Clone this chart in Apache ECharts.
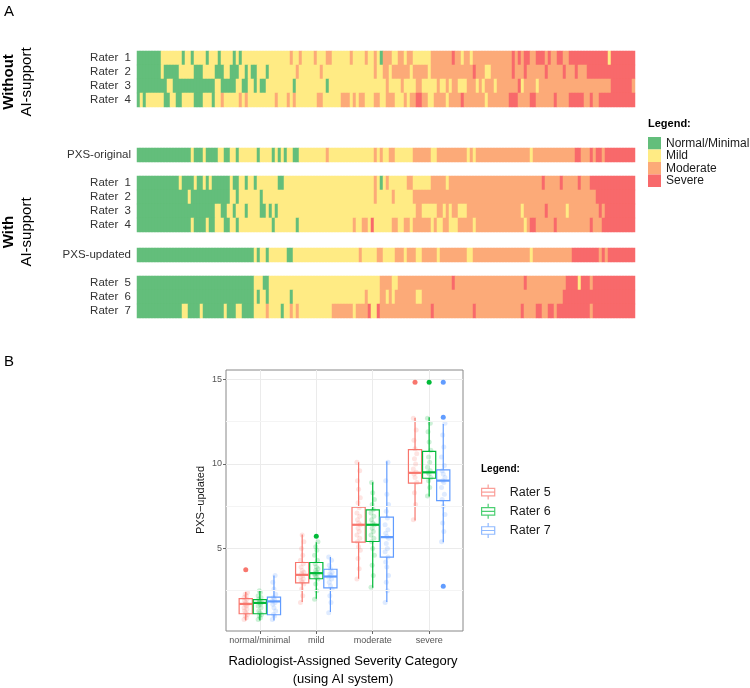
<!DOCTYPE html>
<html><head><meta charset="utf-8">
<script src="https://cdn.jsdelivr.net/npm/echarts@6/dist/echarts.min.js"></script>
<style>html,body{margin:0;padding:0;background:#fff}#c{width:750px;height:688px}</style>
</head><body><div id="c"></div>
<script>
// ---------------- DATA ----------------
const N_CASES = 166;
const severityLabels = ['Normal/Minimal', 'Mild', 'Moderate', 'Severe'];
const severityColors = ['#63BE7B', '#FFEB84', '#FCAA78', '#F8696B'];

// Ratings per case, written as change points "startCase:category" (0 normal, 1 mild, 2 moderate, 3 severe)
const withoutR1 = "0:0 8:1 15:0 16:1 18:0 19:1 23:0 24:1 27:0 28:1 32:0 33:1 34:0 35:1 51:2 52:1 54:2 55:1 59:2 60:1 63:2 65:1 71:2 72:1 76:2 77:1 79:2 80:1 81:0 82:2 85:1 87:2 89:1 90:2 92:1 98:2 105:3 106:2 108:1 109:2 111:1 112:2 125:3 126:2 127:3 128:2 129:3 131:2 133:3 136:2 137:3 138:2 140:3 142:2 144:3 157:1 158:3";
const withoutR2 = "0:0 8:1 9:0 14:1 19:0 22:1 26:0 29:1 31:0 34:1 36:0 37:1 38:0 40:1 43:0 44:1 53:2 54:1 61:2 62:1 79:2 80:1 82:2 84:1 85:2 91:1 92:2 97:1 98:2 112:3 113:2 116:1 118:2 125:3 126:2 129:3 130:2 136:3 137:2 142:3 143:2 146:3 147:2 150:3";
const withoutR3 = "0:0 10:1 12:0 26:1 28:0 33:1 35:0 37:1 39:0 40:1 41:0 43:1 52:0 53:1 63:0 64:1 83:2 84:1 88:2 89:1 93:2 95:1 100:2 101:1 103:2 104:1 105:2 107:1 110:2 113:1 114:2 115:1 116:2 119:1 120:2 127:3 128:1 129:2 133:1 134:2 158:3 165:2";
const withoutR4 = "0:0 1:1 2:0 3:1 9:0 11:1 13:0 15:1 19:0 22:1 25:0 26:1 28:2 29:1 34:2 35:1 36:2 37:1 46:2 47:1 50:2 51:1 52:2 53:1 60:2 62:1 68:2 71:1 72:2 73:1 74:2 76:1 79:2 81:1 83:2 86:1 89:2 90:1 91:2 93:3 95:2 97:1 99:2 103:1 104:2 108:3 109:2 116:1 117:2 124:3 127:2 131:3 133:2 139:3 140:2 144:3 149:2 151:3 152:2 154:3";
const pxsOriginal = "0:0 18:1 19:0 22:1 23:0 27:1 29:0 31:1 33:0 34:1 40:0 41:1 45:0 46:1 47:0 48:1 49:0 50:1 52:0 54:1 63:2 64:1 79:2 80:1 81:2 82:1 84:2 86:1 92:2 98:1 100:2 110:1 111:2 112:1 113:2 131:1 132:2 146:3 148:2 151:3 152:2 153:3 155:2 156:3";
const withR1 = "0:0 14:1 15:0 19:1 20:0 22:1 23:0 24:1 25:0 31:1 32:0 34:1 36:0 37:1 39:0 40:1 47:0 49:1 79:2 80:1 81:0 82:1 83:2 84:1 90:2 92:1 98:2 103:1 104:2 135:3 136:2 141:3 142:2 147:3 148:2 151:3";
const withR2 = "0:0 17:1 18:0 31:1 33:0 34:1 41:0 42:1 79:2 80:1 85:2 86:1 92:2 153:3";
const withR3 = "0:0 26:1 28:0 30:1 32:0 33:1 36:0 37:1 41:0 43:1 44:0 45:1 46:0 47:1 93:2 95:1 100:2 102:1 103:2 104:1 105:2 107:1 110:2 128:1 129:2 136:3 137:2 143:1 144:2 154:3 155:2 156:3";
const withR4 = "0:0 18:1 19:0 23:1 24:0 26:1 29:0 31:1 33:0 34:1 45:0 46:1 53:0 54:1 72:2 73:1 75:2 77:1 78:3 79:1 85:2 87:1 89:2 91:1 92:2 98:1 99:2 100:1 102:2 104:1 107:2 112:1 113:2 129:1 130:2 131:3 133:2 139:3 140:2 151:3 152:2 155:3";
const pxsUpdated = "0:0 39:1 40:0 41:1 43:0 44:1 50:0 52:1 74:2 75:1 80:2 82:1 86:2 89:1 90:2 93:1 95:2 100:1 101:2 110:1 112:2 131:1 132:2 145:3 154:2 155:3 156:2 157:3";
const rater5Row = "0:0 39:1 42:0 44:1 81:2 85:1 87:2 105:3 106:2 129:3 130:2 143:3 147:1 148:3 151:2 152:3";
const rater6Row = "0:0 39:1 40:0 41:1 43:0 44:1 51:0 52:1 76:2 77:1 81:2 83:1 84:2 85:1 86:2 93:1 95:2 142:3";
const rater7Row = "0:0 15:1 17:0 21:1 22:0 29:1 30:0 33:1 35:0 39:1 43:2 44:1 48:0 49:1 51:2 52:1 53:2 54:1 65:2 72:1 73:2 77:3 78:1 80:3 81:2 98:3 99:2 112:3 113:2 128:3 129:2 133:3 135:2 137:3 139:2 140:3 151:2 152:3";

const blockRows = [
  ['Rater  1', 'Rater  2', 'Rater  3', 'Rater  4'],
  ['PXS-original'],
  ['Rater  1', 'Rater  2', 'Rater  3', 'Rater  4'],
  ['PXS-updated'],
  ['Rater  5', 'Rater  6', 'Rater  7']
];
const blockData = [
  [withoutR1, withoutR2, withoutR3, withoutR4],
  [pxsOriginal],
  [withR1, withR2, withR3, withR4],
  [pxsUpdated],
  [rater5Row, rater6Row, rater7Row]
];

// Panel B
const boxCategories = ['normal/minimal', 'mild', 'moderate', 'severe'];
const boxRaters = ['Rater 5', 'Rater 6', 'Rater 7'];
// [lowWhisker, q1, median, q3, highWhisker] per category
const rater5Box = [[0.74, 1.14, 1.72, 2.03, 2.42], [1.83, 2.97, 3.44, 4.17, 5.82], [3.21, 5.37, 6.40, 7.44, 10.1], [6.65, 8.86, 9.47, 10.84, 12.72]];
const rater6Box = [[0.74, 1.14, 1.78, 1.97, 2.52], [2.03, 3.21, 3.54, 4.17, 5.37], [2.67, 5.41, 6.40, 7.28, 8.91], [8.07, 9.15, 9.50, 10.74, 12.75]];
const rater7Box = [[0.74, 1.08, 1.87, 2.12, 3.40], [1.24, 2.67, 3.34, 3.77, 4.49], [1.83, 4.49, 5.67, 6.85, 10.15], [5.37, 7.83, 9.01, 9.65, 12.36]];
// outliers [categoryIndex, value]
const rater5Outliers = [[0, 3.74], [3, 14.82]];
const rater6Outliers = [[1, 5.72], [3, 14.82]];
const rater7Outliers = [[3, 2.76], [3, 12.75], [3, 14.82]];
// individual (jittered) cases per category
const rater5Points = [
  [0.8, 0.9, 1.0, 1.1, 1.2, 1.3, 1.4, 1.5, 1.6, 1.7, 1.7, 1.8, 1.9, 2.0, 2.1, 2.2, 2.3, 2.4],
  [1.8, 2.2, 2.6, 2.9, 3.0, 3.1, 3.2, 3.3, 3.4, 3.5, 3.6, 3.7, 3.9, 4.1, 4.3, 4.6, 5.0, 5.4, 5.8],
  [3.2, 3.8, 4.4, 4.9, 5.1, 5.4, 5.6, 5.8, 6.0, 6.2, 6.4, 6.5, 6.7, 6.9, 7.1, 7.4, 7.7, 8.0, 8.5, 9.0, 9.6, 10.1],
  [6.7, 7.6, 8.3, 8.9, 9.2, 9.4, 9.5, 9.7, 10.0, 10.3, 10.6, 10.9, 11.4, 12.0, 12.7]
];
const rater6Points = [
  [0.8, 0.9, 1.0, 1.1, 1.2, 1.3, 1.5, 1.6, 1.7, 1.8, 1.8, 1.9, 2.0, 2.1, 2.2, 2.4, 2.5],
  [2.0, 2.5, 2.9, 3.2, 3.3, 3.4, 3.5, 3.5, 3.6, 3.7, 3.8, 3.9, 4.1, 4.3, 4.6, 4.9, 5.1, 5.4],
  [2.7, 3.4, 4.0, 4.6, 5.0, 5.4, 5.6, 5.8, 6.0, 6.2, 6.4, 6.5, 6.7, 6.9, 7.1, 7.3, 7.6, 7.9, 8.3, 8.9],
  [8.1, 8.6, 9.0, 9.2, 9.4, 9.5, 9.6, 9.8, 10.1, 10.4, 10.8, 11.3, 11.9, 12.4, 12.7]
];
const rater7Points = [
  [0.8, 1.0, 1.1, 1.3, 1.5, 1.7, 1.8, 1.9, 2.0, 2.1, 2.3, 2.6, 3.0, 3.4],
  [1.2, 1.8, 2.2, 2.6, 2.8, 3.0, 3.2, 3.3, 3.4, 3.5, 3.6, 3.8, 4.0, 4.3, 4.5],
  [1.8, 2.5, 3.0, 3.4, 3.9, 4.2, 4.5, 4.8, 5.0, 5.3, 5.6, 5.7, 5.9, 6.1, 6.4, 6.8, 7.2, 7.6, 8.2, 9.0, 10.1],
  [5.4, 6.0, 6.5, 7.0, 7.5, 7.9, 8.2, 8.6, 8.9, 9.0, 9.2, 9.4, 9.6, 9.9, 10.4, 11.0, 11.7, 12.4]
];
const yTickLabels = [5, 10, 15];

// ---------------- BUILD ----------------
const FONT = '"Liberation Sans", Arial, Helvetica, sans-serif';
function decode(s) {
  const out = new Array(N_CASES).fill(0);
  const pts = s.trim().split(/\s+/).map(t => t.split(':').map(Number));
  for (let k = 0; k < pts.length; k++) {
    const st = pts[k][0], c = pts[k][1];
    const en = k + 1 < pts.length ? pts[k + 1][0] : N_CASES;
    for (let i = st; i < en && i < N_CASES; i++) out[i] = c;
  }
  return out;
}
const caseIds = Array.from({length: N_CASES}, (_, i) => String(i + 1));

// layout of heatmap blocks (px)
const blockLayout = [
  {top: 51, height: 56},
  {top: 148, height: 14},
  {top: 176, height: 56},
  {top: 248, height: 14},
  {top: 276, height: 42}
];

const grids = [], xAxes = [], yAxes = [], series = [];
blockRows.forEach((rows, b) => {
  grids.push({left: 137, top: blockLayout[b].top, width: 498, height: blockLayout[b].height, containLabel: false});
  xAxes.push({type: 'category', gridIndex: b, data: caseIds, show: false});
  yAxes.push({
    type: 'category', gridIndex: b, data: rows, inverse: true,
    axisLine: {show: false}, axisTick: {show: false}, splitLine: {show: false},
    axisLabel: {interval: 0, fontSize: 11.5, color: '#333', margin: 6, fontFamily: FONT}
  });
  const data = [];
  blockData[b].forEach((s, r) => {
    decode(s).forEach((c, i) => data.push([i, r, c]));
  });
  series.push({type: 'heatmap', xAxisIndex: b, yAxisIndex: b, data: data, itemStyle: {borderWidth: 0}, silent: true});
});
const heatCount = series.length;

// Panel B grid
const GB = blockRows.length;
grids.push({left: 226, top: 370, width: 237, height: 261, show: true, borderColor: '#888', borderWidth: 1, containLabel: false});
xAxes.push({
  type: 'value', gridIndex: GB, min: 0.4, max: 4.6, splitNumber: 4,
  axisLine: {show: false},
  axisTick: {show: true, length: 3, lineStyle: {color: '#666'}, customValues: [1, 2, 3, 4]},
  axisLabel: {fontSize: 9, color: '#555', margin: 5, fontFamily: FONT, customValues: [1, 2, 3, 4],
    formatter: v => (Math.abs(v - Math.round(v)) < 1e-6 && v >= 1 && v <= 4) ? boxCategories[Math.round(v) - 1] : ''},
  splitLine: {show: true, lineStyle: {color: '#ebebeb', width: 1}}
});
yAxes.push({
  type: 'value', gridIndex: GB, min: 0.12, max: 15.55, splitNumber: 3,
  axisLine: {show: false},
  axisTick: {show: true, length: 3, lineStyle: {color: '#666'}, customValues: yTickLabels},
  axisLabel: {fontSize: 9, color: '#555', margin: 4, fontFamily: FONT, customValues: yTickLabels,
    formatter: v => yTickLabels.indexOf(Math.round(v * 1000) / 1000) >= 0 ? String(v) : ''},
  splitLine: {show: true, lineStyle: {color: '#ebebeb', width: 1}}
});

const raterColors = ['#F8766D', '#00BA38', '#619CFF'];
const dodge = [-0.25, 0, 0.25];
const allBoxes = [rater5Box, rater6Box, rater7Box];
const allOutliers = [rater5Outliers, rater6Outliers, rater7Outliers];
const allPoints = [rater5Points, rater6Points, rater7Points];
const jitterPattern = [-0.03, 0.01, -0.01, 0.03, 0.0, -0.02, 0.02];

function boxRender(offset, color) {
  return function (params, api) {
    const x = api.value(0) + offset, hw = 0.117;
    const lo = api.value(1), q1 = api.value(2), md = api.value(3), q3 = api.value(4), hi = api.value(5);
    const tl = api.coord([x - hw, q3]), br = api.coord([x + hw, q1]);
    const pLo = api.coord([x, lo]), pHi = api.coord([x, hi]), pQ1 = api.coord([x, q1]), pQ3 = api.coord([x, q3]);
    const ml = api.coord([x - hw, md]), mr = api.coord([x + hw, md]);
    return {type: 'group', children: [
      {type: 'line', shape: {x1: pHi[0], y1: pHi[1], x2: pQ3[0], y2: pQ3[1]}, style: {stroke: color, lineWidth: 1.2}},
      {type: 'line', shape: {x1: pQ1[0], y1: pQ1[1], x2: pLo[0], y2: pLo[1]}, style: {stroke: color, lineWidth: 1.2}},
      {type: 'rect', shape: {x: tl[0], y: tl[1], width: br[0] - tl[0], height: br[1] - tl[1]}, style: {fill: 'none', stroke: color, lineWidth: 1.2}},
      {type: 'line', shape: {x1: ml[0], y1: ml[1], x2: mr[0], y2: mr[1]}, style: {stroke: color, lineWidth: 2.2}}
    ]};
  };
}

// minor grid lines
series.push({
  type: 'line', xAxisIndex: GB, yAxisIndex: GB, data: [], silent: true,
  markLine: {silent: true, symbol: 'none', label: {show: false}, lineStyle: {color: '#f4f4f4', width: 1, type: 'solid'},
    data: [{yAxis: 2.5}, {yAxis: 7.5}, {yAxis: 12.5}]}
});

boxRaters.forEach((name, r) => {
  const pts = [];
  allPoints[r].forEach((vals, c) => vals.forEach((v, i) => pts.push([c + 1 + dodge[r] + jitterPattern[i % jitterPattern.length], v])));
  series.push({
    name: name, type: 'scatter', xAxisIndex: GB, yAxisIndex: GB, data: pts, symbolSize: 5, silent: true,
    itemStyle: {color: raterColors[r], opacity: 0.2}
  });
  series.push({
    name: name, type: 'custom', xAxisIndex: GB, yAxisIndex: GB, silent: true,
    renderItem: boxRender(dodge[r], raterColors[r]),
    itemStyle: {color: raterColors[r]},
    encode: {x: 0, y: [1, 2, 3, 4, 5]},
    data: allBoxes[r].map((b, c) => [c + 1].concat(b))
  });
  series.push({
    name: name, type: 'scatter', xAxisIndex: GB, yAxisIndex: GB, symbolSize: 5, silent: true,
    data: allOutliers[r].map(o => [o[0] + 1 + dodge[r], o[1]]),
    itemStyle: {color: raterColors[r], opacity: 1}
  });
});

const boxIcon = 'path://M8,0 L8,4 M1,4 L15,4 L15,12 L1,12 Z M1,8 L15,8 M8,12 L8,16';

const option = {
  animation: false,
  backgroundColor: '#fff',
  textStyle: {fontFamily: FONT},
  grid: grids, xAxis: xAxes, yAxis: yAxes, series: series,
  visualMap: {
    type: 'piecewise', seriesIndex: Array.from({length: heatCount}, (_, i) => i), dimension: 2,
    orient: 'vertical', inverse: true, align: 'left', left: 648, top: 137, itemWidth: 13, itemHeight: 12.5, itemGap: 0,
    itemSymbol: 'rect', textGap: 5, selectedMode: false, padding: 0,
    textStyle: {fontSize: 12, color: '#1a1a1a', fontFamily: FONT},
    pieces: severityLabels.map((l, i) => ({value: i, label: l, color: severityColors[i]}))
  },
  legend: {
    orient: 'vertical', left: 481, top: 484, itemWidth: 15, itemHeight: 15, itemGap: 3, padding: 0,
    selectedMode: false,
    textStyle: {fontSize: 12.5, color: '#1a1a1a', fontFamily: FONT, padding: [0, 0, 0, 9]},
    data: boxRaters.map((n, r) => ({name: n, icon: boxIcon,
      itemStyle: {color: 'rgba(255,255,255,0)', borderColor: raterColors[r], borderWidth: 1.2, opacity: 0.7}}))
  },
  graphic: [
    {type: 'text', x: 4, y: 12, style: {text: 'A', font: '15px ' + FONT, fill: '#000', textVerticalAlign: 'middle'}},
    {type: 'text', x: 4, y: 362, style: {text: 'B', font: '15px ' + FONT, fill: '#000', textVerticalAlign: 'middle'}},
    {type: 'text', x: 9, y: 82, rotation: Math.PI / 2, style: {text: 'Without', font: 'bold 15px ' + FONT, fill: '#000', textAlign: 'center', textVerticalAlign: 'middle'}},
    {type: 'text', x: 27, y: 82, rotation: Math.PI / 2, style: {text: 'AI-support', font: '15px ' + FONT, fill: '#000', textAlign: 'center', textVerticalAlign: 'middle'}},
    {type: 'text', x: 9, y: 232, rotation: Math.PI / 2, style: {text: 'With', font: 'bold 15px ' + FONT, fill: '#000', textAlign: 'center', textVerticalAlign: 'middle'}},
    {type: 'text', x: 27, y: 232, rotation: Math.PI / 2, style: {text: 'AI-support', font: '15px ' + FONT, fill: '#000', textAlign: 'center', textVerticalAlign: 'middle'}},
    {type: 'text', x: 648, y: 124, style: {text: 'Legend:', font: 'bold 11px ' + FONT, fill: '#000', textVerticalAlign: 'middle'}},
    {type: 'text', x: 481, y: 469, style: {text: 'Legend:', font: 'bold 10px ' + FONT, fill: '#000', textVerticalAlign: 'middle'}},
    {type: 'text', x: 201, y: 500, rotation: Math.PI / 2, style: {text: 'PXS\u2212updated', font: '11px ' + FONT, fill: '#1a1a1a', textAlign: 'center', textVerticalAlign: 'middle'}},
    {type: 'text', x: 343, y: 661, style: {text: 'Radiologist-Assigned Severity Category', font: '13px ' + FONT, fill: '#000', textAlign: 'center', textVerticalAlign: 'middle'}},
    {type: 'text', x: 343, y: 679, style: {text: '(using AI system)', font: '13px ' + FONT, fill: '#000', textAlign: 'center', textVerticalAlign: 'middle'}}
  ]
};
const chart = echarts.init(document.getElementById('c'));
chart.setOption(option);
</script>
</body></html>
